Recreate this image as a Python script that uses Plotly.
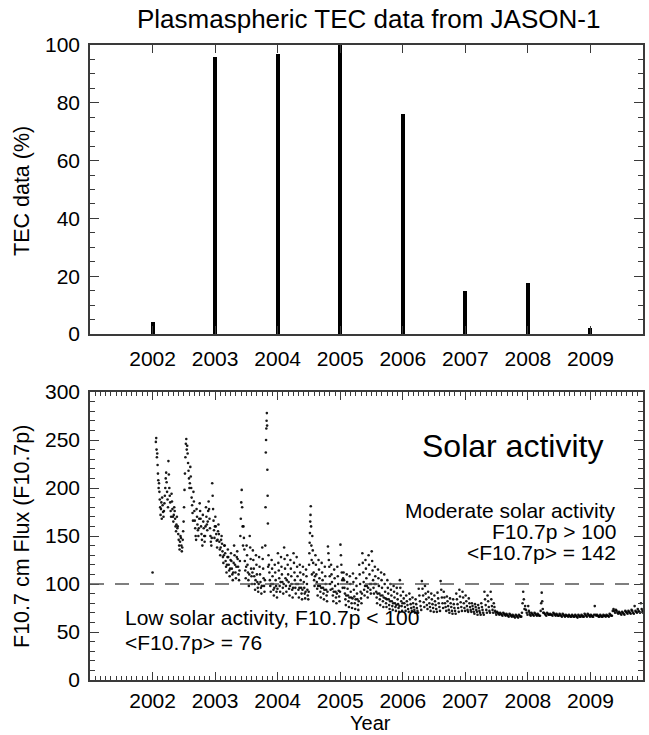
import plotly.graph_objects as go

W, H = 649, 735
FONT = "Liberation Sans, Arial, sans-serif"

# ---------------- data ----------------
tec_years = [2002, 2003, 2004, 2005, 2006, 2007, 2008, 2009]
tec_pct = [4, 96, 97, 100, 76, 15, 17.5, 2]

year_ticks = [2002, 2003, 2004, 2005, 2006, 2007, 2008, 2009]
year_labels = ["2002", "2003", "2004", "2005", "2006", "2007", "2008", "2009"]

# isolated early sample
flux_lone_year = [2002.0]
flux_lone_val = [112]

# F10.7p samples, grouped in 0.05-year bins (values in time order)
bin_width = 0.05
flux_bin_start = [
    2002.05, 2002.10, 2002.15, 2002.20, 2002.25, 2002.30, 2002.35, 2002.40, 2002.45, 2002.50,
    2002.55, 2002.60, 2002.65, 2002.70, 2002.75, 2002.80, 2002.85, 2002.90, 2002.95,
    2003.00, 2003.05, 2003.10, 2003.15, 2003.20, 2003.25, 2003.30, 2003.35, 2003.40, 2003.45,
    2003.50, 2003.55, 2003.60, 2003.65, 2003.70, 2003.75, 2003.80, 2003.85, 2003.90, 2003.95,
    2004.00, 2004.05, 2004.10, 2004.15, 2004.20, 2004.25, 2004.30, 2004.35, 2004.40, 2004.45,
    2004.50, 2004.55, 2004.60, 2004.65, 2004.70, 2004.75, 2004.80, 2004.85, 2004.90, 2004.95,
    2005.00, 2005.05, 2005.10, 2005.15, 2005.20, 2005.25, 2005.30, 2005.35, 2005.40, 2005.45,
    2005.50, 2005.55, 2005.60, 2005.65, 2005.70, 2005.75, 2005.80, 2005.85, 2005.90, 2005.95,
    2006.00, 2006.05, 2006.10, 2006.15, 2006.20, 2006.25, 2006.30, 2006.35, 2006.40, 2006.45,
    2006.50, 2006.55, 2006.60, 2006.65, 2006.70, 2006.75, 2006.80, 2006.85, 2006.90, 2006.95,
    2007.00, 2007.05, 2007.10, 2007.15, 2007.20, 2007.25, 2007.30, 2007.35, 2007.40, 2007.45,
    2007.50, 2007.55, 2007.60, 2007.65, 2007.70, 2007.75, 2007.80, 2007.85, 2007.90, 2007.95,
    2008.00, 2008.05, 2008.10, 2008.15, 2008.20, 2008.25, 2008.30, 2008.35, 2008.40, 2008.45,
    2008.50, 2008.55, 2008.60, 2008.65, 2008.70, 2008.75, 2008.80, 2008.85, 2008.90, 2008.95,
    2009.00, 2009.05, 2009.10, 2009.15, 2009.20, 2009.25, 2009.30, 2009.35, 2009.40, 2009.45,
    2009.50, 2009.55, 2009.60, 2009.65, 2009.70, 2009.75, 2009.80,
]
flux_bin_values = [
    [248, 252, 240, 232, 236, 224, 215, 208, 200],
    [205, 196, 188, 180, 172, 178, 185, 168],
    [190, 182, 175, 170, 176, 184, 192],
    [200, 210, 216, 206, 196, 188, 180],
    [228, 214, 200, 192, 185, 176, 170],
    [194, 186, 178, 170, 165, 172, 180],
    [176, 168, 160, 155, 162, 170, 158],
    [160, 152, 146, 140, 136, 144, 150],
    [148, 140, 134, 138, 146, 155, 165],
    [180, 198, 215, 232, 246, 251, 240],
    [244, 236, 226, 218, 210, 200, 205],
    [222, 212, 200, 190, 182, 174, 166],
    [196, 186, 176, 166, 158, 150, 146],
    [178, 170, 162, 156, 150, 158, 168],
    [184, 176, 168, 160, 152, 146, 140],
    [172, 165, 158, 150, 144, 150, 160],
    [180, 170, 162, 156, 165, 176, 186],
    [178, 168, 158, 150, 144, 140, 148],
    [205, 192, 178, 166, 156, 148, 160],
    [170, 160, 152, 145, 138, 146, 155],
    [162, 152, 144, 136, 130, 138, 146],
    [150, 142, 134, 128, 122, 130, 140],
    [140, 132, 124, 118, 112, 120, 128],
    [136, 128, 120, 114, 108, 116, 125],
    [132, 124, 116, 110, 104, 112, 122],
    [140, 130, 120, 112, 106, 118, 128],
    [134, 126, 118, 110, 104, 114, 124],
    [150, 168, 185, 198, 180, 160, 140],
    [160, 148, 136, 124, 114, 106, 118],
    [140, 130, 120, 112, 104, 98, 110],
    [150, 138, 126, 116, 108, 100, 112],
    [135, 125, 116, 108, 100, 94, 104],
    [130, 120, 110, 102, 96, 92, 100],
    [128, 118, 110, 102, 96, 90, 98],
    [138, 126, 116, 106, 98, 92, 104],
    [140, 180, 237, 250, 262, 270, 278, 265, 219, 192, 163, 118],
    [130, 120, 112, 104, 98, 92, 100],
    [125, 116, 108, 100, 94, 88, 96],
    [120, 112, 104, 98, 92, 86, 95],
    [132, 122, 114, 106, 98, 92, 102],
    [128, 118, 110, 102, 96, 90, 100],
    [138, 126, 116, 106, 98, 92, 104],
    [130, 120, 110, 102, 95, 88, 98],
    [125, 116, 108, 100, 94, 86, 96],
    [132, 122, 112, 104, 96, 90, 100],
    [128, 118, 108, 100, 94, 86, 96],
    [120, 112, 104, 96, 90, 84, 94],
    [118, 110, 102, 96, 90, 85, 92],
    [115, 108, 100, 94, 88, 84, 92],
    [120, 132, 143, 153, 165, 172, 181, 160, 140, 125, 110],
    [150, 135, 122, 112, 104, 98, 108],
    [130, 120, 110, 102, 95, 88, 98],
    [125, 115, 106, 98, 92, 86, 96],
    [122, 112, 104, 96, 90, 84, 94],
    [118, 108, 100, 94, 88, 82, 92],
    [139, 132, 125, 118, 108, 100, 94],
    [120, 110, 102, 95, 88, 82, 92],
    [115, 106, 98, 92, 86, 80, 90],
    [118, 108, 100, 93, 87, 82, 92],
    [141, 130, 120, 112, 104, 96, 106],
    [112, 104, 96, 90, 84, 78, 88],
    [110, 102, 95, 88, 82, 76, 86],
    [108, 100, 92, 86, 80, 75, 85],
    [111, 102, 94, 87, 80, 74, 84],
    [106, 98, 90, 84, 78, 73, 82],
    [120, 110, 100, 92, 85, 80, 90],
    [132, 122, 112, 102, 94, 88, 98],
    [125, 116, 106, 98, 92, 86, 96],
    [130, 120, 110, 100, 94, 90, 100],
    [134, 124, 114, 104, 96, 90, 100],
    [118, 108, 100, 92, 86, 80, 90],
    [115, 106, 98, 90, 84, 78, 88],
    [112, 104, 96, 88, 82, 76, 86],
    [110, 100, 92, 85, 80, 76, 84],
    [104, 96, 90, 84, 78, 74, 82],
    [100, 94, 88, 82, 77, 73, 80],
    [98, 92, 86, 80, 76, 72, 78],
    [96, 90, 84, 79, 75, 71, 77],
    [104, 96, 88, 82, 77, 72, 80],
    [92, 85, 80, 76, 72],
    [88, 82, 78, 74, 71],
    [90, 84, 79, 75, 72],
    [86, 80, 76, 73, 70],
    [84, 79, 75, 72, 70],
    [95, 88, 82, 77, 73],
    [103, 95, 88, 81, 76],
    [98, 90, 84, 78, 74],
    [92, 86, 80, 76, 72],
    [90, 84, 79, 75, 71],
    [88, 82, 78, 74, 71],
    [91, 85, 80, 76, 72],
    [103, 94, 86, 80, 75],
    [92, 86, 80, 76, 72],
    [87, 82, 77, 73, 70],
    [85, 80, 76, 72, 69],
    [84, 79, 75, 72, 69],
    [90, 84, 79, 75, 71],
    [94, 87, 81, 76, 72],
    [92, 86, 80, 75, 72],
    [88, 82, 77, 73, 71],
    [85, 80, 76, 73, 71],
    [80, 77, 74, 71, 69],
    [79, 76, 73, 71, 68],
    [78, 75, 72, 70, 68],
    [80, 76, 73, 70, 68],
    [92, 84, 78, 73, 70],
    [88, 82, 76, 72, 70],
    [92, 84, 77, 73, 70],
    [80, 76, 72, 70, 68],
    [71, 70, 69, 68],
    [70, 69, 68, 67],
    [70, 69, 68, 67],
    [69, 68, 67, 66],
    [69, 68, 67, 66],
    [68, 67, 66, 65],
    [68, 67, 66, 65],
    [68, 67, 66, 66],
    [70, 80, 92, 84, 74],
    [77, 73, 70, 68],
    [77, 72, 70, 68, 67],
    [70, 69, 68, 67],
    [70, 69, 68, 67],
    [69, 68, 67, 67],
    [72, 80, 91, 82, 74, 70],
    [70, 69, 68, 67],
    [70, 69, 68, 68],
    [69, 68, 68, 67],
    [70, 69, 68, 67],
    [69, 68, 67, 67],
    [69, 68, 67, 66],
    [69, 68, 67, 66],
    [68, 67, 67, 66],
    [68, 67, 66, 66],
    [68, 67, 66, 66],
    [68, 67, 66, 65],
    [68, 67, 66, 66],
    [68, 67, 66, 66],
    [69, 68, 67, 66],
    [69, 68, 67, 66],
    [68, 67, 66, 66],
    [68, 77, 68, 67],
    [68, 67, 66, 66],
    [68, 67, 66, 66],
    [68, 67, 67, 66],
    [68, 67, 67, 66],
    [69, 68, 67, 67],
    [72, 74, 72, 70],
    [73, 72, 70, 69],
    [71, 70, 69, 68],
    [71, 70, 69, 68],
    [72, 71, 70, 69],
    [72, 71, 70, 69],
    [73, 72, 70, 69],
    [77, 72, 71, 70],
    [74, 72, 71, 70],
    [80, 74, 72, 70],
]

threshold = 100

# expand binned samples to (time, value) pairs: samples spread evenly in time within their bin
flux_x = list(flux_lone_year)
flux_y = list(flux_lone_val)
for start, vals in zip(flux_bin_start, flux_bin_values):
    n = len(vals)
    for i, v in enumerate(vals):
        flux_x.append(start + (i + 0.5) * bin_width / n)
        flux_y.append(v)

# ---------------- figure ----------------
def px(x):
    return x / W

def py(y):
    return 1 - y / H

AX = "#3a3a3a"
TICKSIZE = 21
common = dict(showline=True, linecolor=AX, linewidth=1.5, mirror="ticks",
              ticks="inside", tickcolor=AX, tickwidth=1.2, showgrid=False,
              zeroline=False, automargin=False,
              tickfont=dict(family=FONT, size=TICKSIZE, color="black"))

fig = go.Figure()
fig.add_trace(go.Bar(x=tec_years, y=tec_pct, width=0.065,
                     marker=dict(color="black", line=dict(width=0)),
                     xaxis="x", yaxis="y", showlegend=False))
fig.add_trace(go.Scatter(x=flux_x, y=flux_y, mode="markers",
                         marker=dict(color="black", size=2.6, opacity=0.9),
                         xaxis="x2", yaxis="y2", showlegend=False))

xdom = [px(90), px(643)]
fig.update_layout(
    width=W, height=H, margin=dict(l=0, r=0, t=0, b=0),
    paper_bgcolor="white", plot_bgcolor="white",
    font=dict(family=FONT, color="black"),
    bargap=0,
    xaxis=dict(domain=xdom, range=[2001.0, 2009.84], tickvals=year_ticks, ticktext=year_labels,
               ticklen=8, anchor="y", ticklabelstandoff=5, **common),
    yaxis=dict(domain=[py(334), py(45)], range=[0, 100], tickvals=[0, 20, 40, 60, 80, 100],
               ticklen=9, anchor="x", ticklabelstandoff=4,
               minor=dict(ticks="inside", dtick=5, tick0=0, ticklen=5, tickcolor=AX, tickwidth=1),
               **common),
    xaxis2=dict(domain=xdom, range=[2001.0, 2009.84], tickvals=year_ticks, ticktext=year_labels,
                ticklen=8, anchor="y2", ticklabelstandoff=1,
                minor=dict(ticks="inside", dtick=1 / 12, tick0=2001, ticklen=4, tickcolor=AX, tickwidth=1),
                **common),
    yaxis2=dict(domain=[py(680), py(392)], range=[0, 300], tickvals=[0, 50, 100, 150, 200, 250, 300],
                ticklen=9, anchor="x2", ticklabelstandoff=4,
                minor=dict(ticks="inside", dtick=10, tick0=0, ticklen=5, tickcolor=AX, tickwidth=1),
                **common),
)

fig.add_shape(type="line", xref="x2 domain", yref="y2", x0=0, x1=1, y0=threshold, y1=threshold,
              line=dict(color="#555555", width=1.5, dash="14px,11px"))

def ann(text, x, y, size, xanchor="center", angle=0):
    fig.add_annotation(text=text, x=px(x), y=py(y), xref="paper", yref="paper",
                       showarrow=False, xanchor=xanchor, yanchor="middle", textangle=angle,
                       font=dict(family=FONT, size=size, color="black"))

ann("Plasmaspheric TEC data from JASON-1", 369, 19, 26)
ann("TEC data (%)", 22, 191, 21.5, angle=-90)
ann("F10.7 cm Flux (F10.7p)", 22, 537, 21.5, angle=-90)
ann("Year", 370, 723, 20)
ann("Solar activity", 512, 446, 32)
ann("Moderate solar activity", 618, 510, 21, xanchor="right")
ann("F10.7p &gt; 100", 618, 531, 21, xanchor="right")
ann("&lt;F10.7p&gt; = 142", 618, 552, 21, xanchor="right")
ann("Low solar activity, F10.7p &lt; 100", 123, 617, 21, xanchor="left")
ann("&lt;F10.7p&gt; = 76", 123, 642, 21, xanchor="left")

fig.write_html("out.html")
